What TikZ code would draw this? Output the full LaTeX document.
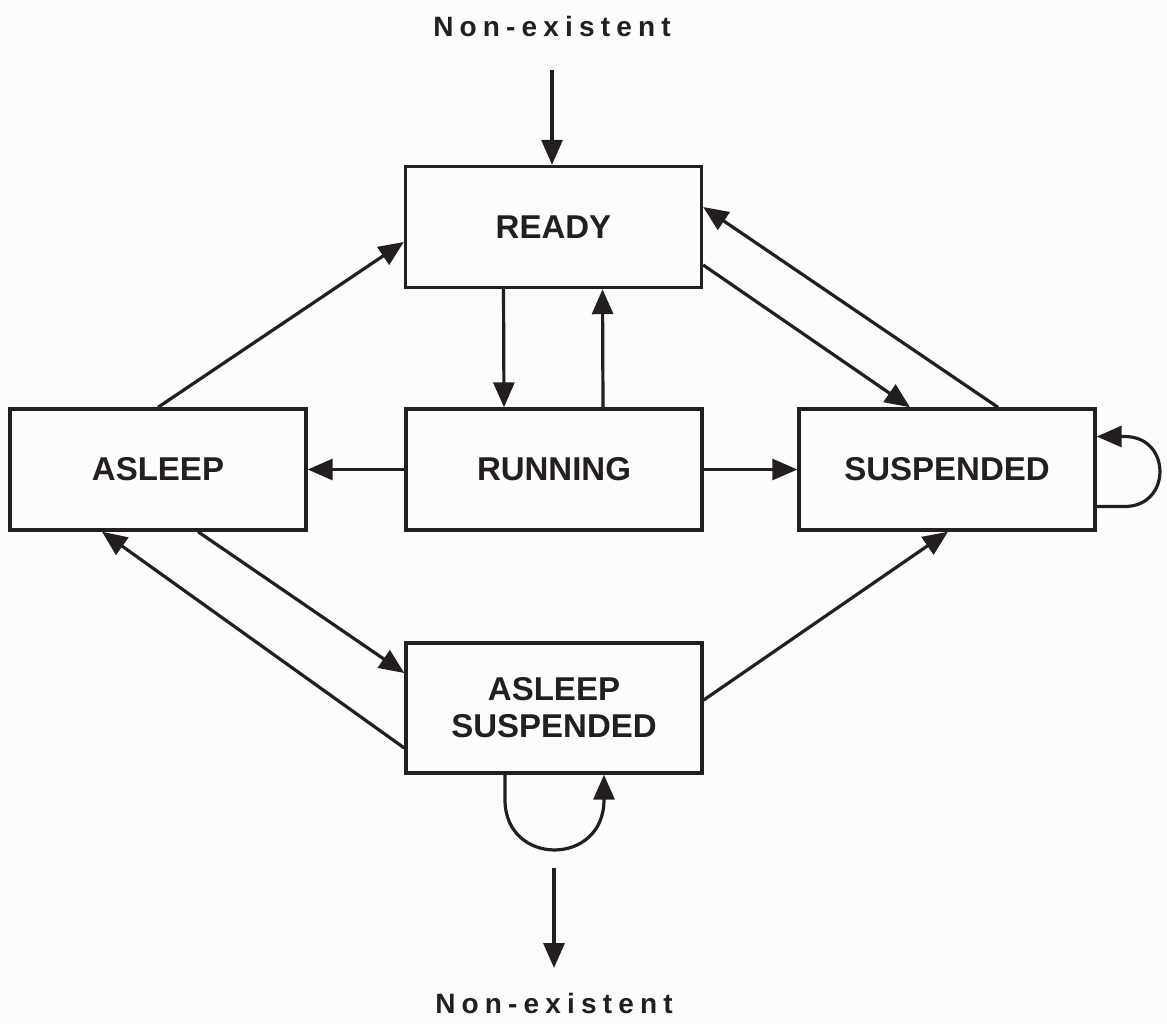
\documentclass[tikz,border=0pt]{standalone}
\usepackage{fontspec}
\setmainfont{Liberation Sans}
\newfontfamily\spacedfont[LetterSpace=22]{Liberation Sans}
\usetikzlibrary{arrows.meta,calc}
\definecolor{ink}{RGB}{35,31,32}
\definecolor{paper}{RGB}{252,252,250}
\begin{document}
\begin{tikzpicture}[x=0.5pt,y=-0.5pt,
  state/.style={draw=ink,line width=1.7pt,minimum width=148pt,minimum height=60.5pt,
    inner sep=0pt,align=center,font=\fontsize{16.5}{18.5}\selectfont\bfseries,text=ink},
  outer/.style={font=\spacedfont\fontsize{14}{16}\selectfont\bfseries,text=ink,inner sep=0pt},
  arr/.style={draw=ink,line width=1.6pt,-{Triangle[length=12.5pt,width=10.5pt]}},
  plain/.style={draw=ink,line width=1.6pt}]
  % page
  \fill[paper] (0,0) rectangle (1167,1025);
  \useasboundingbox (0,0) rectangle (1167,1025);

  % states
  \node[state] (ready)   at (553.5,227)  {READY};
  \node[state] (running) at (554,469.5)  {RUNNING};
  \node[state] (asleep)  at (158,469.5)  {ASLEEP};
  \node[state] (susp)    at (947,469.5)  {SUSPENDED};
  \node[state,minimum height=65pt] (aslsusp) at (554,708) {ASLEEP\\SUSPENDED};

  % entry and exit
  \node[outer] (top)    at (552,26)   {Non-existent};
  \node[outer] (bottom) at (554,1003) {Non-existent};
  \coordinate (topin)  at (552,70);
  \coordinate (botout) at (554,868);
  \coordinate (botend) at (554,968);

  \draw[arr] (topin) -- (ready.north -| topin);
  \draw[arr] (botout) -- (botend);

  % READY <-> RUNNING
  \draw[arr] ($(ready.south)+(-50,0)$) -- ($(running.north)+(-50,0)$);
  \draw[arr] ($(running.north)+(49,0)$) -- ($(ready.south)+(49,0)$);

  % RUNNING -> ASLEEP, SUSPENDED
  \draw[arr] (running.west) -- (asleep.east);
  \draw[arr] (running.east) -- (susp.west);

  % diagonals
  \draw[arr] (asleep.north) -- ($(ready.west)+(0,15)$);
  \draw[arr] ($(ready.east)+(0,38)$) -- ($(susp.north)+(-37,0)$);
  \draw[arr] ($(susp.north)+(51,0)$) -- ($(ready.east)+(0,-20)$);
  \draw[arr] ($(asleep.south)+(40,0)$) -- ($(aslsusp.west)+(0,-35)$);
  \draw[arr] ($(aslsusp.west)+(0,40)$) -- ($(asleep.south)+(-56,0)$);
  \draw[arr] ($(aslsusp.east)+(0,-8)$) -- ($(susp.south)+(1,0)$);

  % SUSPENDED self loop
  \coordinate (sl1) at ($(susp.east)+(0,37)$);
  \coordinate (sl2) at ($(susp.east)+(0,-33)$);
  \draw[arr] (sl1) -- ($(sl1)+(28,0)$)
    .. controls ($(sl1)+(75,0)$) and ($(sl2)+(75,0)$) .. ($(sl2)+(28,0)$) -- (sl2);

  % ASLEEP SUSPENDED self loop
  \coordinate (al1) at ($(aslsusp.south)+(-49,0)$);
  \coordinate (al2) at ($(aslsusp.south)+(50,0)$);
  \draw[arr] (al1) -- ($(al1)+(0,25)$)
    .. controls ($(al1)+(0,92)$) and ($(al2)+(0,92)$) .. ($(al2)+(0,25)$) -- (al2);
\end{tikzpicture}
\end{document}
